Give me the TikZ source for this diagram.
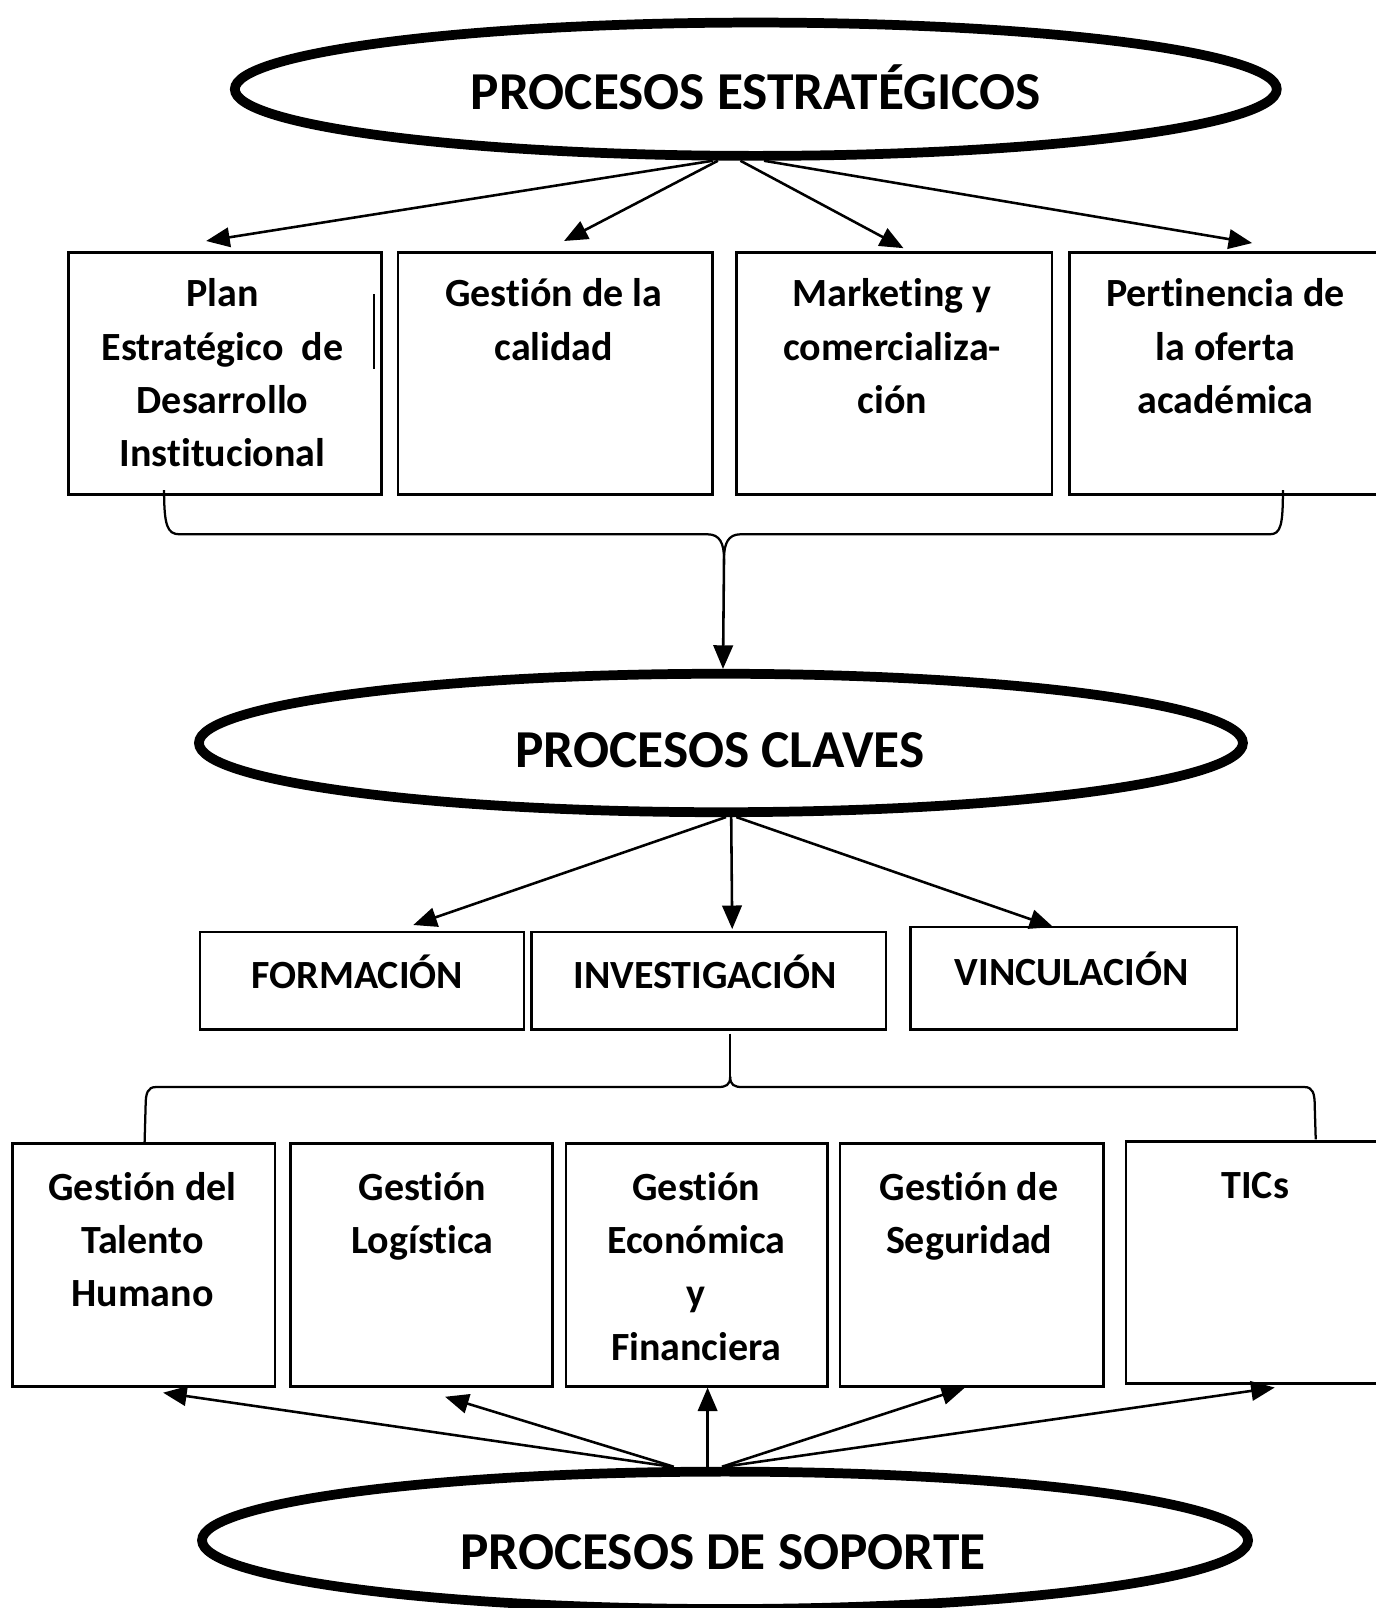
\documentclass[tikz,border=0pt]{standalone}
\usepackage{fontspec}
\setmainfont{Carlito}[RawFeature={-liga;-clig;-dlig;-calt}]
\usetikzlibrary{shapes.geometric,arrows.meta}
\newcommand{\fst}{\rule{0pt}{34pt}}
\tikzset{
  ell/.style={ellipse, draw, line width=9.5pt, inner sep=0pt},
  box/.style={rectangle, draw, line width=2.5pt, inner sep=0pt},
  btxt/.style={font=\fontsize{39}{52}\selectfont\bfseries, align=center, inner sep=0pt, anchor=north},
  ttl/.style={font=\fontsize{52}{62}\selectfont\bfseries, inner sep=0pt, anchor=base},
  arr/.style={-{Triangle[length=23pt,width=19pt]}, line width=2.5pt},
  brk/.style={line width=2.2pt},
}
\begin{document}
\begin{tikzpicture}[x=1pt,y=-1pt]
\useasboundingbox (0,0) rectangle (1341,1568);

% ellipses
\node[ell, minimum width=1016pt, minimum height=130pt] (pe) at (737,87) {};
\node[ttl] (pet) at (737,107) {PROCESOS ESTRATÉGICOS};
\node[ell, minimum width=1018pt, minimum height=135pt] (pc) at (703,724.5) {};
\node[ttl] (pct) at (702,748) {PROCESOS CLAVES};
\node[ell, minimum width=1020pt, minimum height=134pt] (ps) at (707,1502) {};
\node[ttl] (pst) at (705,1530) {PROCESOS DE SOPORTE};

% row 1 boxes
\node[box, minimum width=305pt, minimum height=236pt] (a1) at (219.5,364) {};
\node[box, minimum width=307pt, minimum height=236pt] (a2) at (541.5,364) {};
\node[box, minimum width=308pt, minimum height=236pt] (a3) at (872,364) {};
\node[box, minimum width=307pt, minimum height=236pt] (a4) at (1196.5,364) {};
\node[btxt] (a1t) at (217,265) {\fst Plan\\Estratégico~~de\\Desarrollo\\Institucional};
\node[btxt] (a2t) at (540,265) {\fst Gestión de la\\calidad};
\node[btxt] (a3t) at (870,265) {\fst Marketing y\\comercializa-\\ción};
\node[btxt] (a4t) at (1195,265) {\fst Pertinencia de\\la oferta\\académica};
\draw[line width=2pt] (365,287) -- (365,360);

% row 2 boxes
\node[box, minimum width=316pt, minimum height=95pt] (m1) at (353,956.5) {};
\node[box, minimum width=346pt, minimum height=95pt] (m2) at (691,956.5) {};
\node[box, minimum width=318pt, minimum height=100pt] (m3) at (1047,954) {};
\node[btxt] (m1t) at (348.5,930) {\fst FORMACIÓN};
\node[btxt] (m2t) at (687.5,930) {\fst INVESTIGACIÓN};
\node[btxt] (m3t) at (1045,927) {\fst VINCULACIÓN};

% row 3 boxes
\node[box, minimum width=256pt, minimum height=237pt] (s1) at (140,1233.5) {};
\node[box, minimum width=256pt, minimum height=237pt] (s2) at (411,1233.5) {};
\node[box, minimum width=255pt, minimum height=237pt] (s3) at (679.5,1233.5) {};
\node[box, minimum width=257pt, minimum height=237pt] (s4) at (947.5,1233.5) {};
\node[box, minimum width=252pt, minimum height=236pt] (s5) at (1224,1231) {};
\node[btxt] (s1t) at (139,1136) {\fst Gestión del\\Talento\\Humano};
\node[btxt] (s2t) at (412,1136) {\fst Gestión\\Logística};
\node[btxt] (s3t) at (679,1136) {\fst Gestión\\Económica\\y\\Financiera};
\node[btxt] (s4t) at (945,1136) {\fst Gestión de\\Seguridad};
\node[btxt] (s5t) at (1224,1134) {\fst TICs};

% arrow end coordinates
\coordinate (ta1) at (201,235);
\coordinate (ta2) at (550,235);
\coordinate (ta3) at (881,242);
\coordinate (ta4) at (1221,237);
\coordinate (tm1) at (403,902);
\coordinate (tm2) at (714,906);
\coordinate (tm3) at (1027,904);
\coordinate (ts1) at (159,1358);
\coordinate (ts2) at (434,1362);
\coordinate (ts3) at (690,1353);
\coordinate (ts4) at (941,1353);
\coordinate (ts5) at (1243,1353);

% top arrows
\draw[arr] ([xshift=-42pt]pe.south) -- (ta1);
\draw[arr] ([xshift=-37pt]pe.south) -- (ta2);
\draw[arr] ([xshift=-15pt]pe.south) -- (ta3);
\draw[arr] ([xshift=8pt]pe.south) -- (ta4);

% bracket 1
\coordinate (k1l) at (160,478);
\coordinate (k1r) at (1251,478);
\coordinate (k1tip) at (706,545);
\draw[brk] (k1l) .. controls (160,512) and (163,521) .. (175,521) -- (690,521)
  .. controls (702,521) and (706,530) .. (k1tip);
\draw[brk] (k1tip) .. controls (706,530) and (710,521) .. (722,521) -- (1238,521)
  .. controls (1249,521) and (1251,512) .. (k1r);
\draw[arr] (k1tip) -- ([xshift=2pt]pc.north);

% middle arrows
\draw[arr] ([xshift=5pt]pc.south) -- (tm1);
\draw[arr] ([xshift=10pt]pc.south) -- (tm2);
\draw[arr] ([xshift=15pt]pc.south) -- (tm3);

% bracket 2
\coordinate (k2top) at (712,1008);
\coordinate (k2tip) at (712,1050);
\coordinate (k2l) at (141,1114);
\coordinate (k2r) at (1283,1111);
\draw[brk] (k2top) -- (k2tip);
\draw[brk] (k2tip) .. controls (712,1058) and (708,1060) .. (700,1060) -- (152,1060)
  .. controls (144,1060) and (142,1066) .. (142,1078) -- (k2l);
\draw[brk] (k2tip) .. controls (712,1058) and (716,1060) .. (724,1060) -- (1272,1060)
  .. controls (1280,1060) and (1282,1066) .. (1282,1078) -- (k2r);

% bottom arrows
\draw[arr] ([xshift=-52pt]ps.north) -- (ts1);
\draw[arr] ([xshift=-50pt]ps.north) -- (ts2);
\draw[arr] ([xshift=-17pt]ps.north) -- (ts3);
\draw[arr] ([xshift=-3pt]ps.north) -- (ts4);
\draw[arr] ([xshift=-1pt]ps.north) -- (ts5);
\end{tikzpicture}
\end{document}
